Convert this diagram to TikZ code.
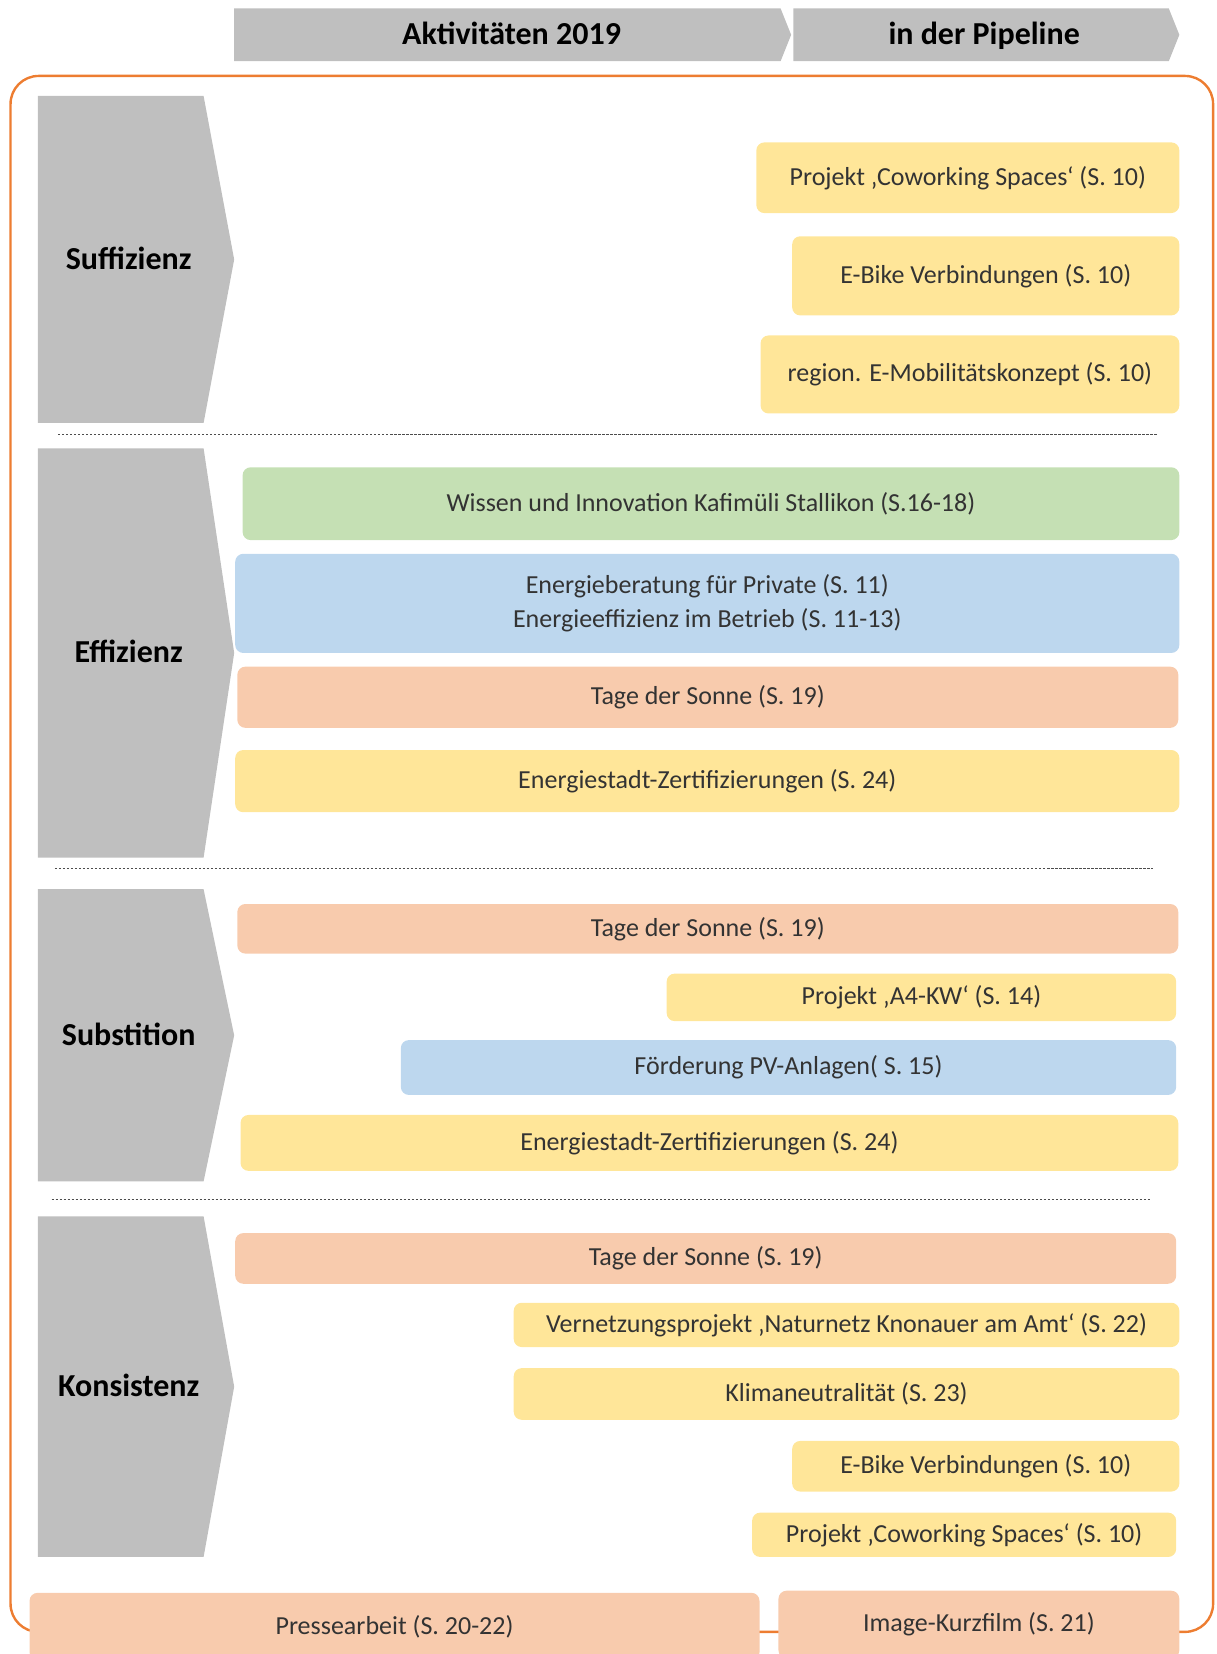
\documentclass[tikz,border=0pt]{standalone}
\usepackage{fontspec}
\setmainfont{Carlito}
\usepackage{xcolor}
\usepackage{tikz}

\definecolor{chevgrey}{HTML}{BFBFBF}
\definecolor{ylw}{HTML}{FFE699}
\definecolor{salmon}{HTML}{F8CBAD}
\definecolor{lgreen}{HTML}{C5E0B4}
\definecolor{lblue}{HTML}{BDD7EE}
\definecolor{orangeframe}{HTML}{ED7D31}

\begin{document}
\begin{tikzpicture}[x=0.5273pt, y=-0.5273pt,
		item/.style = {rounded corners=4pt, inner sep=0pt, align=center, text=black!80, font=\fontsize{13}{17}\selectfont},
		ybox/.style = {item, fill=ylw},
		sbox/.style = {item, fill=salmon},
		gbox/.style = {item, fill=lgreen},
		bbox/.style = {item, fill=lblue},
		bw/.style = {minimum width=#1*0.5273pt},
		bh/.style = {minimum height=#1*0.5273pt},
		cat/.style = {font=\bfseries\fontsize{16}{19}\selectfont, text height=13.5pt, text depth=3.5pt},
		sep/.style = {line width=0.5pt, gray!60!black, dash pattern=on 1.2pt off 0.8pt}]
		\useasboundingbox (0,0) rectangle (1153,1568);
		
		\fill[chevgrey] (222,8) -- (740,8) -- (750,33) -- (740,58) -- (222,58) -- cycle;
		\fill[chevgrey] (752,8) -- (1108,8) -- (1118,33) -- (1108,58) -- (752,58) -- cycle;
		\node[cat] (act) at (485,33) {Aktivitäten 2019};
		\node[cat] (pipe) at (933,33) {in der Pipeline};
		
		\draw[orangeframe, line width=1.2pt, rounded corners=14pt] (10,72) rectangle (1150,1547);
		
		\begin{scope}
			\fill[chevgrey] (36,91) -- (193,91) -- (222,246) -- (193,401) -- (36,401) -- cycle;
			\node[cat] (suff) at (122,246) {Suffizienz};
			
			\node[ybox, bw=401, bh=67] (cwA) at (917.5,168.5) {Projekt ‚Coworking Spaces‘ (S. 10)};
			\node[ybox, bw=367, bh=75] (ebA) at (934.5,261.5) {E-Bike Verbindungen (S. 10)};
			\node[ybox, bw=397, bh=74] (emob) at (919.5,355) {region. E-Mobilitätskonzept (S. 10)};
		\end{scope}
		\draw[sep] (55,412) -- (1097,412);
		
		\begin{scope}
			\fill[chevgrey] (36,425) -- (193,425) -- (222,619) -- (193,813) -- (36,813) -- cycle;
			\node[cat] (effi) at (122,619) {Effizienz};
			
			\node[gbox, bw=888, bh=69] (wiss) at (674,477.5) {Wissen und Innovation Kafimüli Stallikon (S.16-18)};
			\node[bbox, bw=895, bh=94] (enb) at (670.5,572) {Energieberatung für Private (S. 11)\\Energieeffizienz im Betrieb (S. 11-13)};
			\node[sbox, bw=892, bh=58] (tdsA) at (671,661) {Tage der Sonne (S. 19)};
			\node[ybox, bw=895, bh=59] (ezA) at (670.5,740.5) {Energiestadt-Zertifizierungen (S. 24)};
		\end{scope}
		\draw[sep] (52,823) -- (1093,823);
		
		\begin{scope}
			\fill[chevgrey] (36,843) -- (193,843) -- (222,981.5) -- (193,1120) -- (36,1120) -- cycle;
			\node[cat] (subst) at (122,981.5) {Substition};
			
			\node[sbox, bw=892, bh=47] (tdsB) at (671,880.5) {Tage der Sonne (S. 19)};
			\node[ybox, bw=483, bh=45] (akw) at (873.5,945.5) {Projekt ‚A4-KW‘ (S. 14)};
			\node[bbox, bw=735, bh=52] (pv) at (747.5,1012) {Förderung PV-Anlagen( S. 15)};
			\node[ybox, bw=889, bh=53] (ezB) at (672.5,1083.5) {Energiestadt-Zertifizierungen (S. 24)};
		\end{scope}
		\draw[sep] (49,1137) -- (1090,1137);
		
		\begin{scope}
			\fill[chevgrey] (36,1153) -- (193,1153) -- (222,1314.5) -- (193,1476) -- (36,1476) -- cycle;
			\node[cat] (kons) at (122,1314.5) {Konsistenz};
			
			\node[sbox, bw=892, bh=48] (tdsC) at (669,1193) {Tage der Sonne (S. 19)};
			\node[ybox, bw=631, bh=42] (netz) at (802.5,1256) {Vernetzungsprojekt ‚Naturnetz Knonauer am Amt‘ (S. 22)};
			\node[ybox, bw=631, bh=49] (klima) at (802.5,1321.5) {Klimaneutralität (S. 23)};
			\node[ybox, bw=367, bh=48] (ebB) at (934.5,1390) {E-Bike Verbindungen (S. 10)};
			\node[ybox, bw=402, bh=42] (cwB) at (914,1455) {Projekt ‚Coworking Spaces‘ (S. 10)};
		\end{scope}
		
		\node[sbox, bw=692, bh=64] (press) at (374,1542) {Pressearbeit (S. 20-22)};
		\node[sbox, bw=380, bh=64] (film) at (928,1540) {Image-Kurzfilm (S. 21)};
	\end{tikzpicture}
\end{document}
